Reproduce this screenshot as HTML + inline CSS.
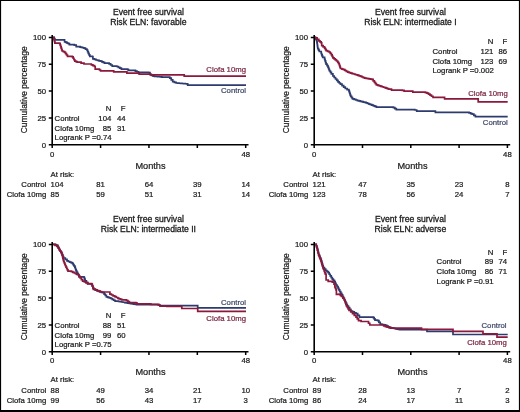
<!DOCTYPE html>
<html><head><meta charset="utf-8"><style>
html,body{margin:0;padding:0;background:#fff;}
#w{position:relative;width:520px;height:412px;overflow:hidden;background:#fff;}
svg{position:absolute;left:0;top:0;}
text{font-family:"Liberation Sans", sans-serif;stroke-width:0.22px;paint-order:stroke;}
#w{will-change:transform;}
</style></head><body><div id="w">
<svg width="520" height="412" viewBox="0 0 520 412">
<g>
<rect x="0" y="0" width="520" height="412" fill="#fff"/>
<text x="148.40" y="14.80" font-size="9" text-anchor="middle" fill="#1a1a1a" stroke="#1a1a1a" textLength="71.0" lengthAdjust="spacingAndGlyphs" style="stroke-width:0.3px">Event free survival</text>
<text x="148.40" y="25.20" font-size="9" text-anchor="middle" fill="#1a1a1a" stroke="#1a1a1a" textLength="76.4" lengthAdjust="spacingAndGlyphs" style="stroke-width:0.3px">Risk ELN: favorable</text>
<text x="0" y="0" font-size="9.4" text-anchor="middle" fill="#1a1a1a" stroke="#1a1a1a" textLength="87" lengthAdjust="spacingAndGlyphs" transform="translate(26.9,89.8) rotate(-90)">Cumulative percentage</text>
<text x="46.00" y="40.10" font-size="7.75" text-anchor="end" fill="#1a1a1a" stroke="#1a1a1a">100</text>
<text x="46.00" y="66.95" font-size="7.75" text-anchor="end" fill="#1a1a1a" stroke="#1a1a1a">75</text>
<text x="46.00" y="93.80" font-size="7.75" text-anchor="end" fill="#1a1a1a" stroke="#1a1a1a">50</text>
<text x="46.00" y="120.65" font-size="7.75" text-anchor="end" fill="#1a1a1a" stroke="#1a1a1a">25</text>
<text x="46.00" y="147.50" font-size="7.75" text-anchor="end" fill="#1a1a1a" stroke="#1a1a1a">0</text>
<text x="52.20" y="157.30" font-size="7.75" text-anchor="middle" fill="#1a1a1a" stroke="#1a1a1a">0</text>
<text x="245.70" y="157.30" font-size="7.75" text-anchor="middle" fill="#1a1a1a" stroke="#1a1a1a">48</text>
<text x="150.50" y="168.90" font-size="9.8" text-anchor="middle" fill="#1a1a1a" stroke="#1a1a1a" textLength="30.2" lengthAdjust="spacingAndGlyphs">Months</text>
<text x="50.60" y="176.70" font-size="7.75" text-anchor="start" fill="#1a1a1a" stroke="#1a1a1a">At risk:</text>
<text x="46.30" y="187.20" font-size="7.75" text-anchor="end" fill="#1a1a1a" stroke="#1a1a1a">Control</text>
<text x="46.30" y="196.80" font-size="7.75" text-anchor="end" fill="#1a1a1a" stroke="#1a1a1a">Clofa 10mg</text>
<text x="50.60" y="187.20" font-size="7.75" text-anchor="start" fill="#1a1a1a" stroke="#1a1a1a">104</text>
<text x="100.58" y="187.20" font-size="7.75" text-anchor="middle" fill="#1a1a1a" stroke="#1a1a1a">81</text>
<text x="148.95" y="187.20" font-size="7.75" text-anchor="middle" fill="#1a1a1a" stroke="#1a1a1a">64</text>
<text x="197.32" y="187.20" font-size="7.75" text-anchor="middle" fill="#1a1a1a" stroke="#1a1a1a">39</text>
<text x="245.70" y="187.20" font-size="7.75" text-anchor="middle" fill="#1a1a1a" stroke="#1a1a1a">14</text>
<text x="50.60" y="196.80" font-size="7.75" text-anchor="start" fill="#1a1a1a" stroke="#1a1a1a">85</text>
<text x="100.58" y="196.80" font-size="7.75" text-anchor="middle" fill="#1a1a1a" stroke="#1a1a1a">59</text>
<text x="148.95" y="196.80" font-size="7.75" text-anchor="middle" fill="#1a1a1a" stroke="#1a1a1a">51</text>
<text x="197.32" y="196.80" font-size="7.75" text-anchor="middle" fill="#1a1a1a" stroke="#1a1a1a">31</text>
<text x="245.70" y="196.80" font-size="7.75" text-anchor="middle" fill="#1a1a1a" stroke="#1a1a1a">14</text>
<text x="111.30" y="111.40" font-size="7.75" text-anchor="end" fill="#1a1a1a" stroke="#1a1a1a">N</text>
<text x="125.60" y="111.40" font-size="7.75" text-anchor="end" fill="#1a1a1a" stroke="#1a1a1a">F</text>
<text x="54.60" y="120.95" font-size="7.75" text-anchor="start" fill="#1a1a1a" stroke="#1a1a1a">Control</text>
<text x="111.30" y="120.95" font-size="7.75" text-anchor="end" fill="#1a1a1a" stroke="#1a1a1a">104</text>
<text x="125.60" y="120.95" font-size="7.75" text-anchor="end" fill="#1a1a1a" stroke="#1a1a1a">44</text>
<text x="54.60" y="130.50" font-size="7.75" text-anchor="start" fill="#1a1a1a" stroke="#1a1a1a">Clofa 10mg</text>
<text x="111.30" y="130.50" font-size="7.75" text-anchor="end" fill="#1a1a1a" stroke="#1a1a1a">85</text>
<text x="125.60" y="130.50" font-size="7.75" text-anchor="end" fill="#1a1a1a" stroke="#1a1a1a">31</text>
<text x="54.60" y="140.05" font-size="7.75" text-anchor="start" fill="#1a1a1a" stroke="#1a1a1a">Logrank P =0.74</text>
<text x="246.00" y="72.10" font-size="7.75" text-anchor="end" fill="#7a2643" stroke="#7a2643" stroke-width="0.1">Clofa 10mg</text>
<text x="246.00" y="93.40" font-size="7.75" text-anchor="end" fill="#3f4769" stroke="#3f4769" stroke-width="0.1">Control</text>
<path d="M52.40,37.40 L53.40,37.40 L53.40,37.40 L54.15,37.40 L54.15,38.60 L54.90,38.60 L54.90,39.80 L62.60,39.80 L62.60,39.80 L64.60,39.80 L64.60,41.80 L65.87,41.80 L65.87,42.43 L67.13,42.43 L67.13,43.07 L68.40,43.07 L68.40,43.70 L69.40,43.70 L69.40,44.70 L74.30,44.70 L74.30,45.20 L76.20,45.20 L76.20,46.60 L80.10,46.60 L80.10,47.10 L81.40,47.10 L81.40,47.43 L82.70,47.43 L82.70,47.77 L84.00,47.77 L84.00,48.10 L85.45,48.10 L85.45,49.05 L86.90,49.05 L86.90,50.00 L87.60,50.00 L87.60,51.70 L88.30,51.70 L88.30,53.40 L89.05,53.40 L89.05,54.85 L89.80,54.85 L89.80,56.30 L92.20,56.30 L92.20,56.50 L92.90,56.50 L92.90,58.80 L94.45,58.80 L94.45,59.40 L96.00,59.40 L96.00,60.00 L97.53,60.00 L97.53,60.40 L99.07,60.40 L99.07,60.80 L100.60,60.80 L100.60,61.20 L101.90,61.20 L101.90,61.83 L103.20,61.83 L103.20,62.47 L104.50,62.47 L104.50,63.10 L109.10,63.10 L109.10,63.80 L110.65,63.80 L110.65,65.00 L112.20,65.00 L112.20,66.20 L116.80,66.20 L116.80,66.50 L118.30,66.50 L118.30,67.30 L119.80,67.30 L119.80,68.10 L121.40,68.10 L121.40,69.20 L127.70,69.20 L127.70,69.60 L128.50,69.60 L128.50,70.40 L135.40,70.40 L135.40,71.20 L136.95,71.20 L136.95,71.75 L138.50,71.75 L138.50,72.30 L148.50,72.30 L148.50,72.70 L150.00,72.70 L150.00,74.60 L151.55,74.60 L151.55,75.40 L153.10,75.40 L153.10,76.20 L154.57,76.20 L154.57,76.34 L156.04,76.34 L156.04,76.49 L157.51,76.49 L157.51,76.63 L158.99,76.63 L158.99,76.77 L160.46,76.77 L160.46,76.91 L161.93,76.91 L161.93,77.06 L163.40,77.06 L163.40,77.20 L169.80,77.20 L169.80,78.10 L171.25,78.10 L171.25,79.85 L172.70,79.85 L172.70,81.60 L174.40,81.60 L174.40,82.30 L176.10,82.30 L176.10,83.00 L177.59,83.00 L177.59,83.13 L179.07,83.13 L179.07,83.26 L180.56,83.26 L180.56,83.39 L182.04,83.39 L182.04,83.51 L183.53,83.51 L183.53,83.64 L185.01,83.64 L185.01,83.77 L186.50,83.77 L186.50,83.90 L187.70,83.90 L187.70,85.10 L246.00,85.10 L246.00,85.10" fill="none" stroke="#2e3b6e" stroke-width="1.7" stroke-linejoin="miter"/>
<path d="M52.40,37.40 L53.40,37.40 L53.40,37.40 L53.77,37.40 L53.77,38.85 L54.15,38.85 L54.15,40.30 L54.52,40.30 L54.52,41.75 L54.90,41.75 L54.90,43.20 L59.70,43.20 L59.70,43.70 L60.18,43.70 L60.18,45.16 L60.66,45.16 L60.66,46.62 L61.14,46.62 L61.14,48.08 L61.62,48.08 L61.62,49.54 L62.10,49.54 L62.10,51.00 L63.35,51.00 L63.35,51.70 L64.60,51.70 L64.60,52.40 L65.57,52.40 L65.57,53.70 L66.53,53.70 L66.53,55.00 L67.50,55.00 L67.50,56.30 L72.30,56.30 L72.30,56.80 L73.13,56.80 L73.13,58.27 L73.97,58.27 L73.97,59.73 L74.80,59.73 L74.80,61.20 L76.00,61.20 L76.00,61.70 L77.20,61.70 L77.20,62.20 L81.10,62.20 L81.10,63.10 L84.00,63.10 L84.00,64.00 L89.80,64.00 L89.80,64.00 L91.37,64.00 L91.37,64.83 L92.93,64.83 L92.93,65.67 L94.50,65.67 L94.50,66.50 L95.20,66.50 L95.20,69.20 L99.50,69.20 L99.50,70.00 L100.60,70.00 L100.60,70.80 L112.20,70.80 L112.20,70.80 L113.70,70.80 L113.70,71.90 L126.20,71.90 L126.20,71.90 L126.90,71.90 L126.90,73.10 L138.50,73.10 L138.50,73.30 L139.20,73.30 L139.20,74.20 L149.20,74.20 L149.20,74.20 L150.80,74.20 L150.80,74.80 L184.20,74.80 L184.20,74.80 L184.20,74.80 L184.20,76.10 L246.00,76.10 L246.00,76.10" fill="none" stroke="#8a193c" stroke-width="1.7" stroke-linejoin="miter"/>
<path d="M52.2,35.0 V144.8 H248.5" fill="none" stroke="#000" stroke-width="1.6"/>
<path d="M48.800000000000004,37.40 H52.2 M48.800000000000004,64.25 H52.2 M48.800000000000004,91.10 H52.2 M48.800000000000004,117.95 H52.2 M48.800000000000004,144.80 H52.2 M52.20,144.8 V148.0 M100.58,144.8 V148.0 M148.95,144.8 V148.0 M197.32,144.8 V148.0 M245.70,144.8 V148.0 " fill="none" stroke="#000" stroke-width="1.5"/>
<text x="410.40" y="14.80" font-size="9" text-anchor="middle" fill="#1a1a1a" stroke="#1a1a1a" textLength="71.0" lengthAdjust="spacingAndGlyphs" style="stroke-width:0.3px">Event free survival</text>
<text x="410.40" y="25.20" font-size="9" text-anchor="middle" fill="#1a1a1a" stroke="#1a1a1a" textLength="92.4" lengthAdjust="spacingAndGlyphs" style="stroke-width:0.3px">Risk ELN: intermediate I</text>
<text x="0" y="0" font-size="9.4" text-anchor="middle" fill="#1a1a1a" stroke="#1a1a1a" textLength="87" lengthAdjust="spacingAndGlyphs" transform="translate(288.9,89.8) rotate(-90)">Cumulative percentage</text>
<text x="308.00" y="40.10" font-size="7.75" text-anchor="end" fill="#1a1a1a" stroke="#1a1a1a">100</text>
<text x="308.00" y="66.95" font-size="7.75" text-anchor="end" fill="#1a1a1a" stroke="#1a1a1a">75</text>
<text x="308.00" y="93.80" font-size="7.75" text-anchor="end" fill="#1a1a1a" stroke="#1a1a1a">50</text>
<text x="308.00" y="120.65" font-size="7.75" text-anchor="end" fill="#1a1a1a" stroke="#1a1a1a">25</text>
<text x="308.00" y="147.50" font-size="7.75" text-anchor="end" fill="#1a1a1a" stroke="#1a1a1a">0</text>
<text x="314.20" y="157.30" font-size="7.75" text-anchor="middle" fill="#1a1a1a" stroke="#1a1a1a">0</text>
<text x="507.40" y="157.30" font-size="7.75" text-anchor="middle" fill="#1a1a1a" stroke="#1a1a1a">48</text>
<text x="412.50" y="168.90" font-size="9.8" text-anchor="middle" fill="#1a1a1a" stroke="#1a1a1a" textLength="30.2" lengthAdjust="spacingAndGlyphs">Months</text>
<text x="312.60" y="176.70" font-size="7.75" text-anchor="start" fill="#1a1a1a" stroke="#1a1a1a">At risk:</text>
<text x="308.30" y="187.20" font-size="7.75" text-anchor="end" fill="#1a1a1a" stroke="#1a1a1a">Control</text>
<text x="308.30" y="196.80" font-size="7.75" text-anchor="end" fill="#1a1a1a" stroke="#1a1a1a">Clofa 10mg</text>
<text x="312.60" y="187.20" font-size="7.75" text-anchor="start" fill="#1a1a1a" stroke="#1a1a1a">121</text>
<text x="362.50" y="187.20" font-size="7.75" text-anchor="middle" fill="#1a1a1a" stroke="#1a1a1a">47</text>
<text x="410.80" y="187.20" font-size="7.75" text-anchor="middle" fill="#1a1a1a" stroke="#1a1a1a">35</text>
<text x="459.10" y="187.20" font-size="7.75" text-anchor="middle" fill="#1a1a1a" stroke="#1a1a1a">23</text>
<text x="507.40" y="187.20" font-size="7.75" text-anchor="middle" fill="#1a1a1a" stroke="#1a1a1a">8</text>
<text x="312.60" y="196.80" font-size="7.75" text-anchor="start" fill="#1a1a1a" stroke="#1a1a1a">123</text>
<text x="362.50" y="196.80" font-size="7.75" text-anchor="middle" fill="#1a1a1a" stroke="#1a1a1a">78</text>
<text x="410.80" y="196.80" font-size="7.75" text-anchor="middle" fill="#1a1a1a" stroke="#1a1a1a">56</text>
<text x="459.10" y="196.80" font-size="7.75" text-anchor="middle" fill="#1a1a1a" stroke="#1a1a1a">24</text>
<text x="507.40" y="196.80" font-size="7.75" text-anchor="middle" fill="#1a1a1a" stroke="#1a1a1a">7</text>
<text x="493.40" y="44.20" font-size="7.75" text-anchor="end" fill="#1a1a1a" stroke="#1a1a1a">N</text>
<text x="507.20" y="44.20" font-size="7.75" text-anchor="end" fill="#1a1a1a" stroke="#1a1a1a">F</text>
<text x="432.50" y="53.95" font-size="7.75" text-anchor="start" fill="#1a1a1a" stroke="#1a1a1a">Control</text>
<text x="493.40" y="53.95" font-size="7.75" text-anchor="end" fill="#1a1a1a" stroke="#1a1a1a">121</text>
<text x="507.20" y="53.95" font-size="7.75" text-anchor="end" fill="#1a1a1a" stroke="#1a1a1a">86</text>
<text x="432.50" y="63.70" font-size="7.75" text-anchor="start" fill="#1a1a1a" stroke="#1a1a1a">Clofa 10mg</text>
<text x="493.40" y="63.70" font-size="7.75" text-anchor="end" fill="#1a1a1a" stroke="#1a1a1a">123</text>
<text x="507.20" y="63.70" font-size="7.75" text-anchor="end" fill="#1a1a1a" stroke="#1a1a1a">69</text>
<text x="432.50" y="73.45" font-size="7.75" text-anchor="start" fill="#1a1a1a" stroke="#1a1a1a">Logrank P =0.002</text>
<text x="507.80" y="95.60" font-size="7.75" text-anchor="end" fill="#7a2643" stroke="#7a2643" stroke-width="0.1">Clofa 10mg</text>
<text x="507.80" y="124.70" font-size="7.75" text-anchor="end" fill="#3f4769" stroke="#3f4769" stroke-width="0.1">Control</text>
<path d="M314.20,37.40 L315.40,37.40 L315.40,37.90 L315.90,37.90 L315.90,39.20 L316.40,39.20 L316.40,40.50 L316.90,40.50 L316.90,41.80 L317.08,41.80 L317.08,43.16 L317.26,43.16 L317.26,44.52 L317.44,44.52 L317.44,45.88 L317.62,45.88 L317.62,47.24 L317.80,47.24 L317.80,48.60 L318.55,48.60 L318.55,50.05 L319.30,50.05 L319.30,51.50 L321.20,51.50 L321.20,53.50 L321.70,53.50 L321.70,54.80 L322.20,54.80 L322.20,56.10 L322.70,56.10 L322.70,57.40 L324.60,57.40 L324.60,59.30 L325.10,59.30 L325.10,60.93 L325.60,60.93 L325.60,62.57 L326.10,62.57 L326.10,64.20 L327.05,64.20 L327.05,65.65 L328.00,65.65 L328.00,67.10 L328.50,67.10 L328.50,68.40 L329.00,68.40 L329.00,69.70 L329.50,69.70 L329.50,71.00 L330.45,71.00 L330.45,72.45 L331.40,72.45 L331.40,73.90 L332.90,73.90 L332.90,76.00 L334.20,76.00 L334.20,77.50 L335.50,77.50 L335.50,79.00 L336.75,79.00 L336.75,80.40 L338.00,80.40 L338.00,81.80 L339.20,81.80 L339.20,83.00 L340.40,83.00 L340.40,84.20 L342.03,84.20 L342.03,85.63 L343.67,85.63 L343.67,87.07 L345.30,87.07 L345.30,88.50 L347.10,88.50 L347.10,89.70 L348.90,89.70 L348.90,90.90 L349.35,90.90 L349.35,92.28 L349.80,92.28 L349.80,93.65 L350.25,93.65 L350.25,95.03 L350.70,95.03 L350.70,96.40 L351.60,96.40 L351.60,97.60 L352.50,97.60 L352.50,98.80 L354.13,98.80 L354.13,99.40 L355.77,99.40 L355.77,100.00 L357.40,100.00 L357.40,100.60 L358.86,100.60 L358.86,100.96 L360.32,100.96 L360.32,101.32 L361.78,101.32 L361.78,101.68 L363.24,101.68 L363.24,102.04 L364.70,102.04 L364.70,102.40 L366.14,102.40 L366.14,102.96 L367.58,102.96 L367.58,103.52 L369.02,103.52 L369.02,104.08 L370.46,104.08 L370.46,104.64 L371.90,104.64 L371.90,105.20 L373.40,105.20 L373.40,105.83 L374.90,105.83 L374.90,106.47 L376.40,106.47 L376.40,107.10 L393.40,107.10 L393.40,107.60 L394.85,107.60 L394.85,108.60 L396.30,108.60 L396.30,109.60 L414.80,109.60 L414.80,110.00 L416.70,110.00 L416.70,111.10 L435.40,111.10 L435.40,111.20 L435.40,111.20 L435.40,112.30 L467.50,112.30 L467.50,112.30 L469.10,112.30 L469.10,112.93 L470.70,112.93 L470.70,113.57 L472.30,113.57 L472.30,114.20 L473.85,114.20 L473.85,115.45 L475.40,115.45 L475.40,116.70 L507.70,116.70 L507.70,116.70" fill="none" stroke="#2e3b6e" stroke-width="1.7" stroke-linejoin="miter"/>
<path d="M314.20,37.40 L315.40,37.40 L315.40,37.90 L317.10,37.90 L317.10,39.40 L318.80,39.40 L318.80,40.90 L320.00,40.90 L320.00,41.85 L321.20,41.85 L321.20,42.80 L321.70,42.80 L321.70,45.70 L323.15,45.70 L323.15,46.90 L324.60,46.90 L324.60,48.10 L325.35,48.10 L325.35,49.35 L326.10,49.35 L326.10,50.60 L327.55,50.60 L327.55,51.30 L329.00,51.30 L329.00,52.00 L330.20,52.00 L330.20,53.45 L331.40,53.45 L331.40,54.90 L332.15,54.90 L332.15,56.35 L332.90,56.35 L332.90,57.80 L334.10,57.80 L334.10,58.80 L335.30,58.80 L335.30,59.80 L336.50,59.80 L336.50,61.00 L337.70,61.00 L337.70,62.20 L338.45,62.20 L338.45,63.40 L339.20,63.40 L339.20,64.60 L339.60,64.60 L339.60,65.90 L340.00,65.90 L340.00,67.20 L340.40,67.20 L340.40,68.50 L341.95,68.50 L341.95,69.10 L343.50,69.10 L343.50,69.70 L344.90,69.70 L344.90,70.50 L346.30,70.50 L346.30,71.30 L347.70,71.30 L347.70,72.10 L349.16,72.10 L349.16,72.58 L350.62,72.58 L350.62,73.06 L352.08,73.06 L352.08,73.54 L353.54,73.54 L353.54,74.02 L355.00,74.02 L355.00,74.50 L356.40,74.50 L356.40,74.93 L357.80,74.93 L357.80,75.37 L359.20,75.37 L359.20,75.80 L360.57,75.80 L360.57,76.40 L361.95,76.40 L361.95,77.00 L363.32,77.00 L363.32,77.60 L364.70,77.60 L364.70,78.20 L366.14,78.20 L366.14,78.44 L367.58,78.44 L367.58,78.68 L369.02,78.68 L369.02,78.92 L370.46,78.92 L370.46,79.16 L371.90,79.16 L371.90,79.40 L373.15,79.40 L373.15,80.90 L374.40,80.90 L374.40,82.40 L375.40,82.40 L375.40,83.60 L376.40,83.60 L376.40,84.80 L377.87,84.80 L377.87,85.30 L379.33,85.30 L379.33,85.80 L380.80,85.80 L380.80,86.30 L382.10,86.30 L382.10,86.77 L383.40,86.77 L383.40,87.23 L384.70,87.23 L384.70,87.70 L386.00,87.70 L386.00,88.20 L387.30,88.20 L387.30,88.70 L388.60,88.70 L388.60,89.20 L391.50,89.20 L391.50,90.10 L402.20,90.10 L402.20,90.40 L404.10,90.40 L404.10,91.10 L410.90,91.10 L410.90,91.10 L412.80,91.10 L412.80,92.10 L423.80,92.10 L423.80,92.20 L425.40,92.20 L425.40,92.70 L427.00,92.70 L427.00,93.20 L428.50,93.20 L428.50,94.20 L430.00,94.20 L430.00,95.20 L431.50,95.20 L431.50,96.25 L433.00,96.25 L433.00,97.30 L444.60,97.30 L444.60,97.30 L444.60,97.30 L444.60,98.80 L478.20,98.80 L478.20,98.80 L478.20,98.80 L478.20,101.90 L507.70,101.90 L507.70,101.90" fill="none" stroke="#8a193c" stroke-width="1.7" stroke-linejoin="miter"/>
<path d="M314.2,35.0 V144.8 H510.2" fill="none" stroke="#000" stroke-width="1.6"/>
<path d="M310.8,37.40 H314.2 M310.8,64.25 H314.2 M310.8,91.10 H314.2 M310.8,117.95 H314.2 M310.8,144.80 H314.2 M314.20,144.8 V148.0 M362.50,144.8 V148.0 M410.80,144.8 V148.0 M459.10,144.8 V148.0 M507.40,144.8 V148.0 " fill="none" stroke="#000" stroke-width="1.5"/>
<text x="148.40" y="221.80" font-size="9" text-anchor="middle" fill="#1a1a1a" stroke="#1a1a1a" textLength="71.0" lengthAdjust="spacingAndGlyphs" style="stroke-width:0.3px">Event free survival</text>
<text x="148.40" y="232.20" font-size="9" text-anchor="middle" fill="#1a1a1a" stroke="#1a1a1a" textLength="95.2" lengthAdjust="spacingAndGlyphs" style="stroke-width:0.3px">Risk ELN: intermediate II</text>
<text x="0" y="0" font-size="9.4" text-anchor="middle" fill="#1a1a1a" stroke="#1a1a1a" textLength="87" lengthAdjust="spacingAndGlyphs" transform="translate(26.9,296.8) rotate(-90)">Cumulative percentage</text>
<text x="46.00" y="247.10" font-size="7.75" text-anchor="end" fill="#1a1a1a" stroke="#1a1a1a">100</text>
<text x="46.00" y="273.95" font-size="7.75" text-anchor="end" fill="#1a1a1a" stroke="#1a1a1a">75</text>
<text x="46.00" y="300.80" font-size="7.75" text-anchor="end" fill="#1a1a1a" stroke="#1a1a1a">50</text>
<text x="46.00" y="327.65" font-size="7.75" text-anchor="end" fill="#1a1a1a" stroke="#1a1a1a">25</text>
<text x="46.00" y="354.50" font-size="7.75" text-anchor="end" fill="#1a1a1a" stroke="#1a1a1a">0</text>
<text x="52.20" y="363.00" font-size="7.75" text-anchor="middle" fill="#1a1a1a" stroke="#1a1a1a">0</text>
<text x="245.70" y="363.00" font-size="7.75" text-anchor="middle" fill="#1a1a1a" stroke="#1a1a1a">48</text>
<text x="150.50" y="374.60" font-size="9.8" text-anchor="middle" fill="#1a1a1a" stroke="#1a1a1a" textLength="30.2" lengthAdjust="spacingAndGlyphs">Months</text>
<text x="50.60" y="382.40" font-size="7.75" text-anchor="start" fill="#1a1a1a" stroke="#1a1a1a">At risk:</text>
<text x="46.30" y="392.90" font-size="7.75" text-anchor="end" fill="#1a1a1a" stroke="#1a1a1a">Control</text>
<text x="46.30" y="402.50" font-size="7.75" text-anchor="end" fill="#1a1a1a" stroke="#1a1a1a">Clofa 10mg</text>
<text x="50.60" y="392.90" font-size="7.75" text-anchor="start" fill="#1a1a1a" stroke="#1a1a1a">88</text>
<text x="100.58" y="392.90" font-size="7.75" text-anchor="middle" fill="#1a1a1a" stroke="#1a1a1a">49</text>
<text x="148.95" y="392.90" font-size="7.75" text-anchor="middle" fill="#1a1a1a" stroke="#1a1a1a">34</text>
<text x="197.32" y="392.90" font-size="7.75" text-anchor="middle" fill="#1a1a1a" stroke="#1a1a1a">21</text>
<text x="245.70" y="392.90" font-size="7.75" text-anchor="middle" fill="#1a1a1a" stroke="#1a1a1a">10</text>
<text x="50.60" y="402.50" font-size="7.75" text-anchor="start" fill="#1a1a1a" stroke="#1a1a1a">99</text>
<text x="100.58" y="402.50" font-size="7.75" text-anchor="middle" fill="#1a1a1a" stroke="#1a1a1a">56</text>
<text x="148.95" y="402.50" font-size="7.75" text-anchor="middle" fill="#1a1a1a" stroke="#1a1a1a">43</text>
<text x="197.32" y="402.50" font-size="7.75" text-anchor="middle" fill="#1a1a1a" stroke="#1a1a1a">17</text>
<text x="245.70" y="402.50" font-size="7.75" text-anchor="middle" fill="#1a1a1a" stroke="#1a1a1a">3</text>
<text x="111.30" y="318.40" font-size="7.75" text-anchor="end" fill="#1a1a1a" stroke="#1a1a1a">N</text>
<text x="125.60" y="318.40" font-size="7.75" text-anchor="end" fill="#1a1a1a" stroke="#1a1a1a">F</text>
<text x="54.60" y="327.95" font-size="7.75" text-anchor="start" fill="#1a1a1a" stroke="#1a1a1a">Control</text>
<text x="111.30" y="327.95" font-size="7.75" text-anchor="end" fill="#1a1a1a" stroke="#1a1a1a">88</text>
<text x="125.60" y="327.95" font-size="7.75" text-anchor="end" fill="#1a1a1a" stroke="#1a1a1a">51</text>
<text x="54.60" y="337.50" font-size="7.75" text-anchor="start" fill="#1a1a1a" stroke="#1a1a1a">Clofa 10mg</text>
<text x="111.30" y="337.50" font-size="7.75" text-anchor="end" fill="#1a1a1a" stroke="#1a1a1a">99</text>
<text x="125.60" y="337.50" font-size="7.75" text-anchor="end" fill="#1a1a1a" stroke="#1a1a1a">60</text>
<text x="54.60" y="347.05" font-size="7.75" text-anchor="start" fill="#1a1a1a" stroke="#1a1a1a">Logrank P =0.75</text>
<text x="246.00" y="321.00" font-size="7.75" text-anchor="end" fill="#7a2643" stroke="#7a2643" stroke-width="0.1">Clofa 10mg</text>
<text x="246.00" y="305.10" font-size="7.75" text-anchor="end" fill="#3f4769" stroke="#3f4769" stroke-width="0.1">Control</text>
<path d="M52.40,244.40 L53.40,244.40 L53.40,244.40 L54.70,244.40 L54.70,244.70 L56.00,244.70 L56.00,245.00 L57.30,245.00 L57.30,245.30 L57.93,245.30 L57.93,246.77 L58.57,246.77 L58.57,248.23 L59.20,248.23 L59.20,249.70 L60.03,249.70 L60.03,251.00 L60.87,251.00 L60.87,252.30 L61.70,252.30 L61.70,253.60 L62.33,253.60 L62.33,255.07 L62.97,255.07 L62.97,256.53 L63.60,256.53 L63.60,258.00 L65.30,258.00 L65.30,259.45 L67.00,259.45 L67.00,260.90 L68.33,260.90 L68.33,261.50 L69.65,261.50 L69.65,262.10 L70.97,262.10 L70.97,262.70 L72.30,262.70 L72.30,263.30 L73.13,263.30 L73.13,264.60 L73.97,264.60 L73.97,265.90 L74.80,265.90 L74.80,267.20 L75.27,267.20 L75.27,268.50 L75.73,268.50 L75.73,269.80 L76.20,269.80 L76.20,271.10 L76.87,271.10 L76.87,272.40 L77.53,272.40 L77.53,273.70 L78.20,273.70 L78.20,275.00 L79.10,275.00 L79.10,276.90 L82.60,276.90 L82.60,276.80 L84.00,276.80 L84.00,277.50 L84.55,277.50 L84.55,279.15 L85.10,279.15 L85.10,280.80 L86.40,280.80 L86.40,282.35 L87.70,282.35 L87.70,283.90 L91.70,283.90 L91.70,284.60 L92.30,284.60 L92.30,286.20 L92.90,286.20 L92.90,287.80 L93.50,287.80 L93.50,289.40 L95.35,289.40 L95.35,290.10 L97.20,290.10 L97.20,290.80 L98.63,290.80 L98.63,291.30 L100.07,291.30 L100.07,291.80 L101.50,291.80 L101.50,292.30 L103.00,292.30 L103.00,292.70 L104.13,292.70 L104.13,294.07 L105.27,294.07 L105.27,295.43 L106.40,295.43 L106.40,296.80 L107.87,296.80 L107.87,297.37 L109.33,297.37 L109.33,297.93 L110.80,297.93 L110.80,298.50 L112.23,298.50 L112.23,299.37 L113.67,299.37 L113.67,300.23 L115.10,300.23 L115.10,301.10 L118.50,301.10 L118.50,301.50 L120.06,301.50 L120.06,301.76 L121.61,301.76 L121.61,302.01 L123.17,302.01 L123.17,302.27 L124.73,302.27 L124.73,302.53 L126.29,302.53 L126.29,302.79 L127.84,302.79 L127.84,303.04 L129.40,303.04 L129.40,303.30 L130.90,303.30 L130.90,303.56 L132.40,303.56 L132.40,303.82 L133.90,303.82 L133.90,304.08 L135.40,304.08 L135.40,304.34 L136.90,304.34 L136.90,304.60 L149.60,304.60 L149.60,304.60 L157.70,304.60 L157.70,305.00 L160.00,305.00 L160.00,305.60 L197.70,305.60 L197.70,305.60 L197.70,305.60 L197.70,307.80 L246.00,307.80 L246.00,307.80" fill="none" stroke="#2e3b6e" stroke-width="1.7" stroke-linejoin="miter"/>
<path d="M52.40,244.40 L53.40,244.40 L53.40,244.40 L55.10,244.40 L55.10,245.35 L56.80,245.35 L56.80,246.30 L58.00,246.30 L58.00,248.00 L59.20,248.00 L59.20,249.70 L60.03,249.70 L60.03,251.00 L60.87,251.00 L60.87,252.30 L61.70,252.30 L61.70,253.60 L62.08,253.60 L62.08,255.16 L62.46,255.16 L62.46,256.72 L62.84,256.72 L62.84,258.28 L63.22,258.28 L63.22,259.84 L63.60,259.84 L63.60,261.40 L64.20,261.40 L64.20,262.85 L64.80,262.85 L64.80,264.30 L65.40,264.30 L65.40,265.75 L66.00,265.75 L66.00,267.20 L66.67,267.20 L66.67,268.50 L67.33,268.50 L67.33,269.80 L68.00,269.80 L68.00,271.10 L71.40,271.10 L71.40,271.60 L72.85,271.60 L72.85,272.30 L74.30,272.30 L74.30,273.00 L75.50,273.00 L75.50,273.75 L76.70,273.75 L76.70,274.50 L78.90,274.50 L78.90,276.40 L80.13,276.40 L80.13,277.97 L81.37,277.97 L81.37,279.53 L82.60,279.53 L82.60,281.10 L84.30,281.10 L84.30,281.97 L86.00,281.97 L86.00,282.83 L87.70,282.83 L87.70,283.70 L91.70,283.70 L91.70,284.40 L92.30,284.40 L92.30,286.00 L92.90,286.00 L92.90,287.60 L93.50,287.60 L93.50,289.20 L95.35,289.20 L95.35,289.90 L97.20,289.90 L97.20,290.60 L98.63,290.60 L98.63,291.07 L100.07,291.07 L100.07,291.53 L101.50,291.53 L101.50,292.00 L108.20,292.00 L108.20,292.00 L109.90,292.00 L109.90,294.20 L111.50,294.20 L111.50,295.02 L113.10,295.02 L113.10,295.84 L114.70,295.84 L114.70,296.66 L116.30,296.66 L116.30,297.48 L117.90,297.48 L117.90,298.30 L119.23,298.30 L119.23,298.80 L120.57,298.80 L120.57,299.30 L121.90,299.30 L121.90,299.80 L126.50,299.80 L126.50,300.60 L127.95,300.60 L127.95,301.55 L129.40,301.55 L129.40,302.50 L135.80,302.50 L135.80,302.90 L136.90,302.90 L136.90,303.80 L149.60,303.80 L149.60,303.80 L150.80,303.80 L150.80,304.40 L157.70,304.40 L157.70,304.40 L158.85,304.40 L158.85,305.25 L160.00,305.25 L160.00,306.10 L166.90,306.10 L166.90,306.40 L181.80,306.40 L181.80,306.40 L181.80,306.40 L181.80,308.50 L197.70,308.50 L197.70,308.50 L197.70,308.50 L197.70,311.40 L246.00,311.40 L246.00,311.40" fill="none" stroke="#8a193c" stroke-width="1.7" stroke-linejoin="miter"/>
<path d="M52.2,242.0 V351.8 H248.5" fill="none" stroke="#000" stroke-width="1.6"/>
<path d="M48.800000000000004,244.40 H52.2 M48.800000000000004,271.25 H52.2 M48.800000000000004,298.10 H52.2 M48.800000000000004,324.95 H52.2 M48.800000000000004,351.80 H52.2 M52.20,351.8 V355.0 M100.58,351.8 V355.0 M148.95,351.8 V355.0 M197.32,351.8 V355.0 M245.70,351.8 V355.0 " fill="none" stroke="#000" stroke-width="1.5"/>
<text x="410.40" y="221.80" font-size="9" text-anchor="middle" fill="#1a1a1a" stroke="#1a1a1a" textLength="71.0" lengthAdjust="spacingAndGlyphs" style="stroke-width:0.3px">Event free survival</text>
<text x="410.40" y="232.20" font-size="9" text-anchor="middle" fill="#1a1a1a" stroke="#1a1a1a" textLength="71.6" lengthAdjust="spacingAndGlyphs" style="stroke-width:0.3px">Risk ELN: adverse</text>
<text x="0" y="0" font-size="9.4" text-anchor="middle" fill="#1a1a1a" stroke="#1a1a1a" textLength="87" lengthAdjust="spacingAndGlyphs" transform="translate(288.9,296.8) rotate(-90)">Cumulative percentage</text>
<text x="308.00" y="247.10" font-size="7.75" text-anchor="end" fill="#1a1a1a" stroke="#1a1a1a">100</text>
<text x="308.00" y="273.95" font-size="7.75" text-anchor="end" fill="#1a1a1a" stroke="#1a1a1a">75</text>
<text x="308.00" y="300.80" font-size="7.75" text-anchor="end" fill="#1a1a1a" stroke="#1a1a1a">50</text>
<text x="308.00" y="327.65" font-size="7.75" text-anchor="end" fill="#1a1a1a" stroke="#1a1a1a">25</text>
<text x="308.00" y="354.50" font-size="7.75" text-anchor="end" fill="#1a1a1a" stroke="#1a1a1a">0</text>
<text x="314.20" y="363.00" font-size="7.75" text-anchor="middle" fill="#1a1a1a" stroke="#1a1a1a">0</text>
<text x="507.40" y="363.00" font-size="7.75" text-anchor="middle" fill="#1a1a1a" stroke="#1a1a1a">48</text>
<text x="412.50" y="374.60" font-size="9.8" text-anchor="middle" fill="#1a1a1a" stroke="#1a1a1a" textLength="30.2" lengthAdjust="spacingAndGlyphs">Months</text>
<text x="312.60" y="382.40" font-size="7.75" text-anchor="start" fill="#1a1a1a" stroke="#1a1a1a">At risk:</text>
<text x="308.30" y="392.90" font-size="7.75" text-anchor="end" fill="#1a1a1a" stroke="#1a1a1a">Control</text>
<text x="308.30" y="402.50" font-size="7.75" text-anchor="end" fill="#1a1a1a" stroke="#1a1a1a">Clofa 10mg</text>
<text x="312.60" y="392.90" font-size="7.75" text-anchor="start" fill="#1a1a1a" stroke="#1a1a1a">89</text>
<text x="362.50" y="392.90" font-size="7.75" text-anchor="middle" fill="#1a1a1a" stroke="#1a1a1a">28</text>
<text x="410.80" y="392.90" font-size="7.75" text-anchor="middle" fill="#1a1a1a" stroke="#1a1a1a">13</text>
<text x="459.10" y="392.90" font-size="7.75" text-anchor="middle" fill="#1a1a1a" stroke="#1a1a1a">7</text>
<text x="507.40" y="392.90" font-size="7.75" text-anchor="middle" fill="#1a1a1a" stroke="#1a1a1a">2</text>
<text x="312.60" y="402.50" font-size="7.75" text-anchor="start" fill="#1a1a1a" stroke="#1a1a1a">86</text>
<text x="362.50" y="402.50" font-size="7.75" text-anchor="middle" fill="#1a1a1a" stroke="#1a1a1a">24</text>
<text x="410.80" y="402.50" font-size="7.75" text-anchor="middle" fill="#1a1a1a" stroke="#1a1a1a">17</text>
<text x="459.10" y="402.50" font-size="7.75" text-anchor="middle" fill="#1a1a1a" stroke="#1a1a1a">11</text>
<text x="507.40" y="402.50" font-size="7.75" text-anchor="middle" fill="#1a1a1a" stroke="#1a1a1a">3</text>
<text x="493.40" y="254.60" font-size="7.75" text-anchor="end" fill="#1a1a1a" stroke="#1a1a1a">N</text>
<text x="507.20" y="254.60" font-size="7.75" text-anchor="end" fill="#1a1a1a" stroke="#1a1a1a">F</text>
<text x="436.60" y="264.30" font-size="7.75" text-anchor="start" fill="#1a1a1a" stroke="#1a1a1a">Control</text>
<text x="493.40" y="264.30" font-size="7.75" text-anchor="end" fill="#1a1a1a" stroke="#1a1a1a">89</text>
<text x="507.20" y="264.30" font-size="7.75" text-anchor="end" fill="#1a1a1a" stroke="#1a1a1a">74</text>
<text x="436.60" y="274.00" font-size="7.75" text-anchor="start" fill="#1a1a1a" stroke="#1a1a1a">Clofa 10mg</text>
<text x="493.40" y="274.00" font-size="7.75" text-anchor="end" fill="#1a1a1a" stroke="#1a1a1a">86</text>
<text x="507.20" y="274.00" font-size="7.75" text-anchor="end" fill="#1a1a1a" stroke="#1a1a1a">71</text>
<text x="436.60" y="283.70" font-size="7.75" text-anchor="start" fill="#1a1a1a" stroke="#1a1a1a">Logrank P =0.91</text>
<text x="506.80" y="345.20" font-size="7.75" text-anchor="end" fill="#7a2643" stroke="#7a2643" stroke-width="0.1">Clofa 10mg</text>
<text x="506.50" y="327.70" font-size="7.75" text-anchor="end" fill="#3f4769" stroke="#3f4769" stroke-width="0.1">Control</text>
<path d="M314.60,244.40 L315.80,244.40 L315.80,244.40 L316.27,244.40 L316.27,245.77 L316.73,245.77 L316.73,247.13 L317.20,247.13 L317.20,248.50 L317.60,248.50 L317.60,250.07 L318.00,250.07 L318.00,251.65 L318.40,251.65 L318.40,253.23 L318.80,253.23 L318.80,254.80 L319.43,254.80 L319.43,256.35 L320.05,256.35 L320.05,257.90 L320.68,257.90 L320.68,259.45 L321.30,259.45 L321.30,261.00 L321.77,261.00 L321.77,262.65 L322.25,262.65 L322.25,264.30 L322.73,264.30 L322.73,265.95 L323.20,265.95 L323.20,267.60 L324.45,267.60 L324.45,269.05 L325.70,269.05 L325.70,270.50 L326.95,270.50 L326.95,271.55 L328.20,271.55 L328.20,272.60 L329.20,272.60 L329.20,274.25 L330.20,274.25 L330.20,275.90 L331.25,275.90 L331.25,277.55 L332.30,277.55 L332.30,279.20 L333.35,279.20 L333.35,280.45 L334.40,280.45 L334.40,281.70 L335.20,281.70 L335.20,283.35 L336.00,283.35 L336.00,285.00 L337.05,285.00 L337.05,286.65 L338.10,286.65 L338.10,288.30 L338.90,288.30 L338.90,289.95 L339.70,289.95 L339.70,291.60 L340.75,291.60 L340.75,293.25 L341.80,293.25 L341.80,294.90 L342.63,294.90 L342.63,296.60 L343.47,296.60 L343.47,298.30 L344.30,298.30 L344.30,300.00 L345.05,300.00 L345.05,301.50 L345.80,301.50 L345.80,303.00 L346.55,303.00 L346.55,304.50 L347.30,304.50 L347.30,306.00 L348.47,306.00 L348.47,307.70 L349.63,307.70 L349.63,309.40 L350.80,309.40 L350.80,311.10 L352.53,311.10 L352.53,311.97 L354.27,311.97 L354.27,312.83 L356.00,312.83 L356.00,313.70 L357.70,313.70 L357.70,315.45 L359.40,315.45 L359.40,317.20 L373.30,317.20 L373.30,317.70 L374.15,317.70 L374.15,318.90 L375.00,318.90 L375.00,320.10 L377.60,320.10 L377.60,320.70 L378.90,320.70 L378.90,322.40 L380.20,322.40 L380.20,324.10 L381.93,324.10 L381.93,324.50 L383.67,324.50 L383.67,324.90 L385.40,324.90 L385.40,325.30 L386.83,325.30 L386.83,326.07 L388.27,326.07 L388.27,326.83 L389.70,326.83 L389.70,327.60 L391.17,327.60 L391.17,327.90 L392.64,327.90 L392.64,328.20 L394.11,328.20 L394.11,328.50 L395.59,328.50 L395.59,328.80 L397.06,328.80 L397.06,329.10 L398.53,329.10 L398.53,329.40 L400.00,329.40 L400.00,329.70 L427.00,329.70 L427.00,329.70 L427.00,329.70 L427.00,331.30 L453.00,331.30 L453.00,331.30 L453.00,331.30 L453.00,334.50 L507.70,334.50 L507.70,334.50" fill="none" stroke="#2e3b6e" stroke-width="1.7" stroke-linejoin="miter"/>
<path d="M314.60,244.40 L315.80,244.40 L315.80,244.40 L316.20,244.40 L316.20,245.77 L316.60,245.77 L316.60,247.13 L317.00,247.13 L317.00,248.50 L317.38,248.50 L317.38,250.07 L317.75,250.07 L317.75,251.65 L318.12,251.65 L318.12,253.23 L318.50,253.23 L318.50,254.80 L319.10,254.80 L319.10,256.35 L319.70,256.35 L319.70,257.90 L320.30,257.90 L320.30,259.45 L320.90,259.45 L320.90,261.00 L321.38,261.00 L321.38,262.65 L321.85,262.65 L321.85,264.30 L322.32,264.30 L322.32,265.95 L322.80,265.95 L322.80,267.60 L323.45,267.60 L323.45,269.25 L324.10,269.25 L324.10,270.90 L324.70,270.90 L324.70,272.55 L325.30,272.55 L325.30,274.20 L326.10,274.20 L326.10,280.00 L328.20,280.00 L328.20,281.30 L331.10,281.30 L331.10,281.30 L332.30,281.30 L332.30,282.10 L334.00,282.10 L334.00,284.10 L334.80,284.10 L334.80,287.00 L335.40,287.00 L335.40,288.45 L336.00,288.45 L336.00,289.90 L336.40,289.90 L336.40,294.40 L339.30,294.40 L339.30,294.20 L340.35,294.20 L340.35,295.35 L341.40,295.35 L341.40,296.50 L342.85,296.50 L342.85,298.25 L344.30,298.25 L344.30,300.00 L344.82,300.00 L344.82,301.50 L345.35,301.50 L345.35,303.00 L345.88,303.00 L345.88,304.50 L346.40,304.50 L346.40,306.00 L347.27,306.00 L347.27,307.43 L348.13,307.43 L348.13,308.87 L349.00,308.87 L349.00,310.30 L350.75,310.30 L350.75,312.00 L352.50,312.00 L352.50,313.70 L354.25,313.70 L354.25,315.45 L356.00,315.45 L356.00,317.20 L357.25,317.20 L357.25,318.95 L358.50,318.95 L358.50,320.70 L361.10,320.70 L361.10,321.50 L367.20,321.50 L367.20,321.50 L368.50,321.50 L368.50,323.25 L369.80,323.25 L369.80,325.00 L381.90,325.00 L381.90,325.00 L383.65,325.00 L383.65,325.85 L385.40,325.85 L385.40,326.70 L387.13,326.70 L387.13,327.20 L388.87,327.20 L388.87,327.70 L390.60,327.70 L390.60,328.20 L421.50,328.20 L421.50,328.20 L421.50,328.20 L421.50,329.30 L453.00,329.30 L453.00,329.30 L453.00,329.30 L453.00,331.30 L483.00,331.30 L483.00,331.30 L483.00,331.30 L483.00,333.80 L497.00,333.80 L497.00,333.80 L497.00,333.80 L497.00,337.10 L507.70,337.10 L507.70,337.10" fill="none" stroke="#8a193c" stroke-width="1.7" stroke-linejoin="miter"/>
<path d="M314.2,242.0 V351.8 H510.2" fill="none" stroke="#000" stroke-width="1.6"/>
<path d="M310.8,244.40 H314.2 M310.8,271.25 H314.2 M310.8,298.10 H314.2 M310.8,324.95 H314.2 M310.8,351.80 H314.2 M314.20,351.8 V355.0 M362.50,351.8 V355.0 M410.80,351.8 V355.0 M459.10,351.8 V355.0 M507.40,351.8 V355.0 " fill="none" stroke="#000" stroke-width="1.5"/>
</g>
<path d="M0.5,0 V412 M519.5,0 V412 M0,0.5 H520 M0,411 H520" stroke="#000" stroke-width="1.2" fill="none"/>
<rect x="0" y="410" width="520" height="2" fill="#000"/>
<rect x="0" y="0" width="520" height="1" fill="#000"/>
<rect x="0" y="0" width="1" height="412" fill="#000"/>
<rect x="519" y="0" width="1" height="412" fill="#000"/>
</svg></div></body></html>
